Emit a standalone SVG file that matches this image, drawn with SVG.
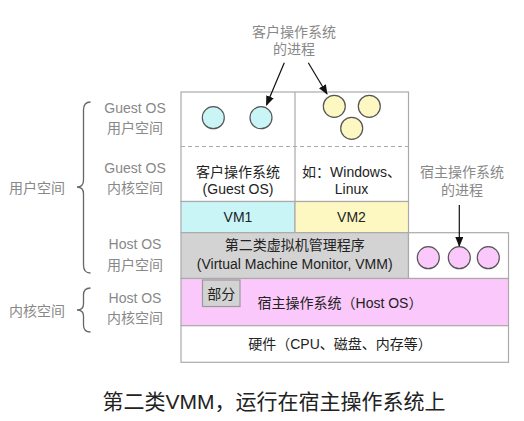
<svg xmlns="http://www.w3.org/2000/svg" width="524" height="421" viewBox="0 0 524 421">
<defs>
<marker id="arr" markerWidth="10" markerHeight="8" refX="9" refY="4" orient="auto" markerUnits="userSpaceOnUse">
<path d="M0,0 L10,4 L0,8 Z" fill="#111"/>
</marker>
<style>
.box{stroke:#aaa;stroke-width:1.2}
.c{stroke:#555;stroke-width:1.2}
.lbl{font-family:"Liberation Sans","Noto Sans CJK SC",sans-serif;font-size:14px;fill:#888;text-anchor:middle}
.t{font-family:"Liberation Sans","Noto Sans CJK SC",sans-serif;font-size:14px;fill:#222;text-anchor:middle}
.brace{fill:none;stroke:#666;stroke-width:1.3}
.conn{stroke:#111;stroke-width:1.2;fill:none;marker-end:url(#arr)}
</style>
</defs>
<rect width="524" height="421" fill="#fff"/>

<g id="braces">
<path class="brace" d="M90.5,102 Q83.5,102 83.5,110 L83.5,180 Q83.5,187 77,187 Q83.5,187 83.5,194 L83.5,265 Q83.5,273 90.5,273"/>
<path class="brace" d="M90.5,288 Q83.5,288 83.5,295 L83.5,304 Q83.5,310 77,310 Q83.5,310 83.5,316 L83.5,325 Q83.5,332 90.5,332"/>
<text class="lbl" x="37" y="193">用户空间</text>
<text class="lbl" x="37" y="316">内核空间</text>
</g>

<g id="side-labels">
<text class="lbl" x="135" y="113">Guest OS</text>
<text class="lbl" x="135" y="133">用户空间</text>
<text class="lbl" x="135" y="173">Guest OS</text>
<text class="lbl" x="135" y="193">内核空间</text>
<text class="lbl" x="135" y="249">Host OS</text>
<text class="lbl" x="135" y="270">用户空间</text>
<text class="lbl" x="135" y="303">Host OS</text>
<text class="lbl" x="135" y="323">内核空间</text>
</g>

<g id="guest-area">
<rect class="box" x="181" y="92" width="227.5" height="109.5" fill="#fff"/>
<line x1="295" y1="92" x2="295" y2="201.5" stroke="#aaa" stroke-width="1.2"/>
<line x1="181" y1="146.5" x2="408.5" y2="146.5" stroke="#aaa" stroke-width="1.2" stroke-dasharray="4,3"/>
<text class="t" x="238" y="176.5">客户操作系统</text>
<text class="t" x="238" y="193.5">(Guest OS)</text>
<text class="t" x="351.5" y="176.5">如：Windows、</text>
<text class="t" x="351.5" y="193.5">Linux</text>
</g>

<g id="guest-procs">
<circle class="c" cx="213.3" cy="117.7" r="11" fill="#c9f5f7"/>
<circle class="c" cx="261" cy="117.7" r="11" fill="#c9f5f7"/>
<circle class="c" cx="334.3" cy="106.3" r="11" fill="#fdf8c2"/>
<circle class="c" cx="369.3" cy="106.3" r="11" fill="#fdf8c2"/>
<circle class="c" cx="351.7" cy="128.3" r="11" fill="#fdf8c2"/>
</g>

<g id="vm1">
<rect class="box" x="181" y="201.5" width="114" height="31.2" fill="#c9f5f7"/>
<text class="t" x="238" y="222">VM1</text>
</g>
<g id="vm2">
<rect class="box" x="295" y="201.5" width="113.5" height="31.2" fill="#fdf8c2"/>
<text class="t" x="351.5" y="222">VM2</text>
</g>

<g id="vmm">
<rect class="box" x="181" y="232.7" width="227.5" height="45.8" fill="#d3d3d3"/>
<text class="t" x="294.7" y="250">第二类虚拟机管理程序</text>
<text class="t" x="294.7" y="269">(Virtual Machine Monitor, VMM)</text>
</g>

<g id="host-procs">
<rect class="box" x="408.5" y="232.7" width="100" height="45.8" fill="#fff"/>
<circle class="c" cx="428.3" cy="257.7" r="11" fill="#fac8fa"/>
<circle class="c" cx="459.3" cy="257.7" r="11" fill="#fac8fa"/>
<circle class="c" cx="488.3" cy="257.7" r="11" fill="#fac8fa"/>
</g>

<g id="host-os">
<rect class="box" x="181" y="278.5" width="327.5" height="47.2" fill="#fac8fa"/>
<text class="t" x="340" y="308">宿主操作系统（Host OS）</text>
</g>

<g id="part">
<rect x="202.5" y="280" width="37.5" height="26.5" fill="#d3d3d3" stroke="#999" stroke-width="1.2"/>
<text class="t" x="221.2" y="299">部分</text>
</g>

<g id="hardware">
<rect class="box" x="181" y="325.7" width="327.5" height="36.6" fill="#fff"/>
<text class="t" x="340" y="349">硬件（CPU、磁盘、内存等）</text>
</g>

<g id="top-labels">
<text class="lbl" x="294" y="36.5">客户操作系统</text>
<text class="lbl" x="294" y="54">的进程</text>
<text class="lbl" x="462" y="176.5">宿主操作系统</text>
<text class="lbl" x="462" y="195">的进程</text>
</g>

<g id="connectors">
<line class="conn" x1="284.3" y1="62.7" x2="266.5" y2="105"/>
<line class="conn" x1="308.3" y1="62.7" x2="327" y2="94"/>
<line class="conn" x1="459.3" y1="205" x2="459.3" y2="246"/>
</g>

<text x="274" y="409" font-family="'Liberation Serif','Noto Sans CJK SC',serif" font-size="21" fill="#222" text-anchor="middle">第二类<tspan font-family="'Liberation Sans',sans-serif">VMM</tspan>，运行在宿主操作系统上</text>
</svg>
